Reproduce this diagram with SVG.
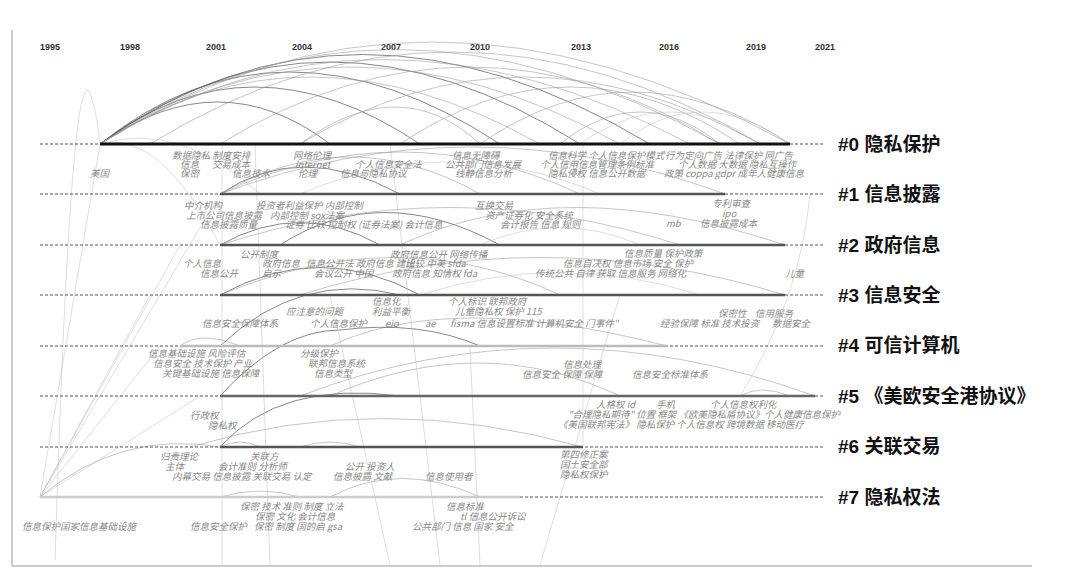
<svg xmlns="http://www.w3.org/2000/svg" width="1080" height="579" viewBox="0 0 1080 579">
<style>
.yr{font:bold 9px "Liberation Sans",Arial,sans-serif;fill:#333}
.cl{font:bold 19px "Liberation Sans","Noto Sans CJK SC",sans-serif;fill:#111}
.t{font:italic 9.5px "Noto Sans CJK SC",sans-serif;fill:#8a8a8a}
.d{stroke:#555;stroke-width:1;stroke-dasharray:3 2}
.a{fill:none;stroke:#999;stroke-width:0.8;opacity:0.7}
.ad{fill:none;stroke:#555;stroke-width:1;opacity:0.7}
.al{fill:none;stroke:#bbb;stroke-width:0.7;opacity:0.7}
</style>
<rect width="1080" height="579" fill="#fff"/>
<line x1="12" y1="30" x2="12" y2="566" stroke="#999"/>
<line x1="12" y1="566" x2="1032" y2="566" stroke="#bbb" stroke-width="1.5"/>
<g id="years">
<text class="yr" x="40" y="50">1995</text><text class="yr" x="120" y="50">1998</text><text class="yr" x="206" y="50">2001</text><text class="yr" x="292" y="50">2004</text><text class="yr" x="381" y="50">2007</text><text class="yr" x="470" y="50">2010</text><text class="yr" x="571" y="50">2013</text><text class="yr" x="659" y="50">2016</text><text class="yr" x="746" y="50">2019</text><text class="yr" x="815" y="50">2021</text>
</g>
<g id="connectors">
<path class="ad" d="M100 144 Q220 60 330 144"/>
<path class="ad" d="M100 144 Q250 30 420 144"/>
<path class="ad" d="M100 144 Q280 0 500 144"/>
<path class="ad" d="M100 144 Q320 -20 580 144"/>
<path class="ad" d="M100 144 Q350 -35 650 144"/>
<path class="a" d="M100 144 Q380 -45 720 144"/>
<path class="a" d="M100 144 Q420 -60 790 144"/>
<path class="a" d="M100 144 Q300 10 540 144"/>
<path class="a" d="M100 144 Q340 -10 620 144"/>
<path class="a" d="M100 144 Q370 -25 690 144"/>
<path class="a" d="M150 144 Q450 -40 760 144"/>
<path class="a" d="M220 144 Q470 -10 720 144"/>
<path class="a" d="M300 144 Q520 10 760 144"/>
<path class="a" d="M400 144 Q570 30 740 144"/>
<path class="a" d="M480 144 Q630 40 790 144"/>
<path class="a" d="M560 144 Q640 80 720 144"/>
<path class="al" d="M580 144 Q670 80 760 144"/>
<path class="al" d="M620 144 Q700 80 790 144"/>
<path class="a" d="M300 144 Q400 70 480 144"/>
<path class="al" d="M55 560 Q70 80 88 90 Q95 100 100 144"/>
<path class="al" d="M100 144 Q180 120 260 194"/>
<path class="al" d="M100 144 Q160 130 220 245"/>
<path class="ad" d="M220 194 Q300 140 400 194"/>
<path class="a" d="M220 194 Q350 120 480 194"/>
<path class="a" d="M220 194 Q400 110 580 194"/>
<path class="a" d="M220 194 Q470 100 725 194"/>
<path class="al" d="M300 194 Q450 130 600 194"/>
<path class="ad" d="M220 245 Q300 200 380 245"/>
<path class="ad" d="M280 245 Q380 180 500 245"/>
<path class="a" d="M220 245 Q450 170 680 245"/>
<path class="a" d="M400 245 Q560 170 785 245"/>
<path class="al" d="M480 245 Q560 210 640 245"/>
<path class="ad" d="M220 295 Q320 240 420 295"/>
<path class="a" d="M220 295 Q400 220 560 295"/>
<path class="a" d="M300 295 Q540 220 785 295"/>
<path class="al" d="M420 295 Q560 250 700 295"/>
<path class="a" d="M180 346 Q200 330 240 346"/>
<path class="ad" d="M220 346 Q300 270 400 295"/>
<path class="a" d="M330 346 Q450 290 667 346"/>
<path class="ad" d="M220 396 Q280 330 340 330 Q420 320 480 346"/>
<path class="a" d="M300 396 Q550 300 815 396"/>
<path class="a" d="M330 396 Q480 330 620 396"/>
<path class="a" d="M740 396 Q760 384 790 396"/>
<path class="ad" d="M220 447 Q280 380 400 396"/>
<path class="a" d="M190 447 Q380 390 583 447"/>
<path class="a" d="M220 447 Q240 437 260 447"/>
<path class="a" d="M300 447 Q330 437 360 447"/>
<path class="a" d="M40 497 Q120 430 220 447"/>
<path class="a" d="M330 497 Q400 460 480 497"/>
<path class="a" d="M220 497 Q260 485 300 497"/>
<path class="al" d="M40 497 L100 144"/>
<path class="al" d="M40 497 L220 194"/>
<path class="al" d="M40 497 L180 245"/>
<path class="al" d="M40 497 L150 295"/>
<path class="al" d="M40 497 L160 346"/>
<path class="al" d="M40 497 L200 396"/>
<path class="al" d="M222 144 L222 565"/>
<path class="al" d="M583 144 L583 447"/>
<path class="al" d="M255 144 L270 565"/>
<path class="al" d="M330 295 L390 565"/>
<path class="al" d="M390 144 L440 565"/>
<path class="al" d="M470 346 L480 565"/>
<path class="al" d="M620 294 L540 565"/>
<path class="al" d="M810 194 Q800 300 740 396"/>
</g>
<g id="rows">
<line class="d" x1="40" y1="144" x2="825" y2="144"/><line x1="100" y1="144" x2="790" y2="144" stroke="#111" stroke-width="3"/>
<line class="d" x1="40" y1="194" x2="825" y2="194"/><line x1="220" y1="194" x2="725" y2="194" stroke="#555" stroke-width="2.5"/>
<line class="d" x1="40" y1="245" x2="825" y2="245"/><line x1="220" y1="245" x2="785" y2="245" stroke="#555" stroke-width="2.5"/>
<line class="d" x1="40" y1="295" x2="825" y2="295"/><line x1="220" y1="295" x2="785" y2="295" stroke="#555" stroke-width="2.5"/>
<line class="d" x1="40" y1="346" x2="825" y2="346"/><line x1="180" y1="346" x2="667" y2="346" stroke="#bbb" stroke-width="2.5"/>
<line class="d" x1="40" y1="396" x2="825" y2="396"/><line x1="220" y1="396" x2="815" y2="396" stroke="#666" stroke-width="2.5"/>
<line class="d" x1="40" y1="447" x2="825" y2="447"/><line x1="220" y1="447" x2="583" y2="447" stroke="#555" stroke-width="2.5"/>
<line class="d" x1="40" y1="497" x2="825" y2="497"/><line x1="40" y1="497" x2="520" y2="497" stroke="#ccc" stroke-width="2.5"/>
</g>
<g id="clusters">
<text class="cl" x="838" y="151">#0 隐私保护</text>
<text class="cl" x="838" y="201">#1 信息披露</text>
<text class="cl" x="838" y="252">#2 政府信息</text>
<text class="cl" x="838" y="302">#3 信息安全</text>
<text class="cl" x="838" y="352">#4 可信计算机</text>
<text class="cl" x="838" y="403">#5 《美欧安全港协议》</text>
<text class="cl" x="838" y="453">#6 关联交易</text>
<text class="cl" x="838" y="504">#7 隐私权法</text>
</g>
<g id="terms">
<text class="t" x="90" y="177">美国</text>
<text class="t" x="172" y="159">数据隐私 制度安排</text>
<text class="t" x="180" y="168">信息</text><text class="t" x="212" y="168">交易成本</text>
<text class="t" x="180" y="177">保密</text><text class="t" x="232" y="177">信息技术</text>
<text class="t" x="293" y="159">网络伦理</text><text class="t" x="295" y="168">internet</text><text class="t" x="298" y="177">伦理</text>
<text class="t" x="355" y="168">个人信息安全法</text><text class="t" x="340" y="177">信息与隐私协议</text>
<text class="t" x="452" y="159">信息无障碍</text><text class="t" x="445" y="168">公共部门信息发展</text><text class="t" x="455" y="177">线静信息分析</text>
<text class="t" x="548" y="159">信息科学 个人信息保护模式</text><text class="t" x="540" y="168">个人信用信息管理条例标准</text><text class="t" x="548" y="177">隐私侵权 信息公开数据</text>
<text class="t" x="665" y="159">行为定向广告 法律保护 网广告</text><text class="t" x="678" y="168">个人数据 大数据 隐私互操作</text>
<text class="t" x="664" y="177">政策 coppa gdpr 成年人健康信息</text>
<text class="t" x="184" y="209">中介机构</text><text class="t" x="186" y="219">上市公司信息披露</text><text class="t" x="200" y="228">信息披露质量</text>
<text class="t" x="256" y="209">投资者利益保护 内部控制</text><text class="t" x="270" y="219">内部控制 sox法案</text><text class="t" x="285" y="228">证券 比较 控制权 (证券法案) 会计信息</text>
<text class="t" x="475" y="209">互换交易</text><text class="t" x="485" y="219">资产证券化 安全系统</text><text class="t" x="500" y="228">会计报告 信息 规则</text>
<text class="t" x="712" y="207">专利审查</text><text class="t" x="722" y="217">ipo</text><text class="t" x="666" y="227">mb</text><text class="t" x="700" y="227">信息披露成本</text>
<text class="t" x="240" y="258">公开制度</text><text class="t" x="183" y="267">个人信息</text><text class="t" x="262" y="267">政府信息</text>
<text class="t" x="200" y="277">信息公开</text><text class="t" x="262" y="277">启示</text>
<text class="t" x="306" y="267">信息公开法 政府信息 建设</text><text class="t" x="314" y="277">会议公开 中国</text>
<text class="t" x="390" y="258">政府信息公开 网络传播</text><text class="t" x="405" y="267">比较 中美 sfda</text><text class="t" x="392" y="277">政府信息 知情权 fda</text>
<text class="t" x="624" y="257">信息质量 保护政策</text><text class="t" x="563" y="267">信息自决权 信息市场 安全 保护</text><text class="t" x="535" y="277">传统公共 自律 获取 信息服务 网络化</text>
<text class="t" x="785" y="277">儿童</text>
<text class="t" x="372" y="305">信息化</text><text class="t" x="448" y="305">个人标识 联邦政府</text>
<text class="t" x="286" y="315">应注意的问题</text><text class="t" x="372" y="315">利益平衡</text><text class="t" x="455" y="315">儿童隐私权 保护 115</text>
<text class="t" x="202" y="327">信息安全保障体系</text><text class="t" x="310" y="327">个人信息保护</text><text class="t" x="385" y="327">eio</text><text class="t" x="425" y="327">ae</text>
<text class="t" x="450" y="327">fisma 信息设置标准 计算机安全 门事件"</text>
<text class="t" x="718" y="317">保密性</text><text class="t" x="755" y="317">信用服务</text>
<text class="t" x="660" y="327">经验保障 标准 技术投资</text><text class="t" x="772" y="327">数据安全</text>
<text class="t" x="148" y="357">信息基础设施 风险评估</text><text class="t" x="153" y="367">信息安全 技术保护 产业</text><text class="t" x="162" y="377">关键基础设施 信息保障</text>
<text class="t" x="300" y="357">分级保护</text><text class="t" x="308" y="367">联邦信息系统</text><text class="t" x="314" y="377">信息类型</text>
<text class="t" x="563" y="368">信息处理</text><text class="t" x="522" y="378">信息安全 保障 保障</text><text class="t" x="632" y="378">信息安全标准体系</text>
<text class="t" x="596" y="408">人格权 id</text><text class="t" x="656" y="408">手机</text><text class="t" x="710" y="408">个人信息权利化</text>
<text class="t" x="568" y="418">"合理隐私期待" 位置 框架 《欧美隐私盾协议》个人健康信息保护</text>
<text class="t" x="558" y="428">《美国联邦宪法》 隐私保护 个人信息权 跨境数据 移动医疗</text>
<text class="t" x="190" y="419">行政权</text><text class="t" x="208" y="429">隐私权</text>
<text class="t" x="160" y="460">归责理论</text><text class="t" x="250" y="460">关联方</text>
<text class="t" x="165" y="470">主体</text><text class="t" x="218" y="470">会计准则 分析师</text><text class="t" x="345" y="470">公开 投资人</text>
<text class="t" x="172" y="480">内幕交易 信息披露 关联交易 认定</text><text class="t" x="333" y="480">信息披露 文献</text><text class="t" x="425" y="480">信息使用者</text>
<text class="t" x="560" y="458">第四修正案</text><text class="t" x="560" y="468">国土安全部</text><text class="t" x="560" y="478">隐私权保护</text>
<text class="t" x="240" y="510">保密 技术 准则 制度 立法</text><text class="t" x="255" y="520">保密 文化 会计信息</text>
<text class="t" x="22" y="530">信息保护国家信息基础设施</text><text class="t" x="190" y="530">信息安全保护</text><text class="t" x="254" y="530">保密 制度 国的启 gsa</text>
<text class="t" x="446" y="510">信息标准</text><text class="t" x="460" y="520">tl 信息公开诉讼</text><text class="t" x="412" y="530">公共部门 信息 国家 安全</text>
</g>
</svg>
